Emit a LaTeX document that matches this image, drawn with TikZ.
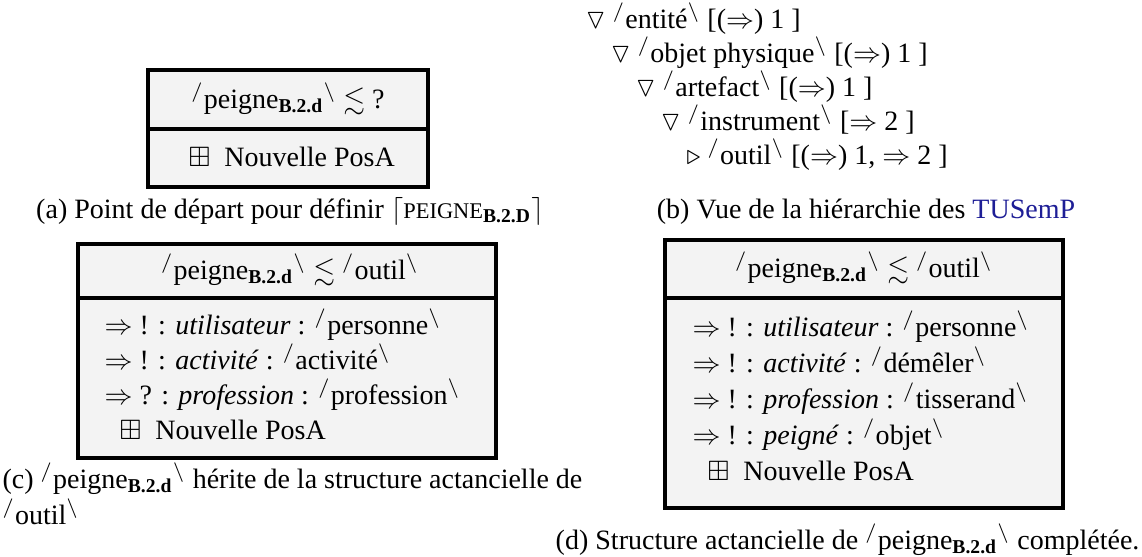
\documentclass[tikz,border=0pt]{standalone}
\usepackage{amssymb}
\usepackage{fontspec}
\setmainfont{Liberation Serif}
\definecolor{boxfill}{HTML}{F3F3F3}
\definecolor{linkblue}{RGB}{30,30,150}
\newcommand{\semlab}[1]{$^{/}$#1$^{\backslash}$}
\newcommand{\peignelab}{\semlab{peigne\textsubscript{\textbf{B.2.d}}}}
\tikzset{
  boxframe/.style={draw=black, line width=1.1pt, fill=boxfill},
  divline/.style={draw=black, line width=1.1pt},
  rowtext/.style={anchor=base west, inner sep=0pt},
  ctext/.style={anchor=base, inner sep=0pt},
  captext/.style={anchor=base west, inner sep=0pt},
}
\begin{document}
\begin{tikzpicture}[x=0.357pt, y=-0.357pt]
\useasboundingbox (0,0) rectangle (1142,556);
% ---------- (a)
\draw[boxframe] (148,70) rectangle (428,187);
\draw[divline] (148,129) -- (428,129);
\node[ctext] (ah) at (288,108) {\peignelab{} $\lesssim$ ?};
\node[rowtext] (ar) at (188,166) {$\boxplus$\ \ Nouvelle PosA};
\node[ctext] (ac) at (290,218) {(a) Point de départ pour définir $\lceil${\footnotesize PEIGNE}\textsubscript{\textbf{\scriptsize B.2.D}}$\rceil$};
% ---------- (b)
\node[rowtext] (b1) at (585,28) {$\triangledown$ \semlab{entité} [($\Rightarrow$) 1 ]};
\node[rowtext] (b2) at (610,62) {$\triangledown$ \semlab{objet physique} [($\Rightarrow$) 1 ]};
\node[rowtext] (b3) at (635,96) {$\triangledown$ \semlab{artefact} [($\Rightarrow$) 1 ]};
\node[rowtext] (b4) at (660,130) {$\triangledown$ \semlab{instrument} [$\Rightarrow$ 2 ]};
\node[rowtext] (b5) at (686,164) {$\triangleright$ \semlab{outil} [($\Rightarrow$) 1, $\Rightarrow$ 2 ]};
\node[ctext] (bc) at (866,218) {(b) Vue de la hiérarchie des \textcolor{linkblue}{TUSemP}};
% ---------- (c)
\draw[boxframe] (78,244) rectangle (496,458);
\draw[divline] (78,298) -- (496,298);
\node[ctext] (ch) at (290,279) {\peignelab{} $\lesssim$ \semlab{outil}};
\node[rowtext] (c1) at (104,334) {$\Rightarrow$ ! : \textit{utilisateur} : \semlab{personne}};
\node[rowtext] (c2) at (104,369) {$\Rightarrow$ ! : \textit{activité} : \semlab{activité}};
\node[rowtext] (c3) at (104,404) {$\Rightarrow$ ? : \textit{profession} : \semlab{profession}};
\node[rowtext] (c4) at (119,439) {$\boxplus$\ \ Nouvelle PosA};
\node[captext] (cc1) at (2,488) {(c) \peignelab{} hérite de la structure actancielle de};
\node[captext] (cc2) at (2,524) {\semlab{outil}};
% ---------- (d)
\draw[boxframe] (665,240) rectangle (1063,508);
\draw[divline] (665,298) -- (1063,298);
\node[ctext] (dh) at (864,277) {\peignelab{} $\lesssim$ \semlab{outil}};
\node[rowtext] (d1) at (692,336) {$\Rightarrow$ ! : \textit{utilisateur} : \semlab{personne}};
\node[rowtext] (d2) at (692,372) {$\Rightarrow$ ! : \textit{activité} : \semlab{démêler}};
\node[rowtext] (d3) at (692,408) {$\Rightarrow$ ! : \textit{profession} : \semlab{tisserand}};
\node[rowtext] (d4) at (692,444) {$\Rightarrow$ ! : \textit{peigné} : \semlab{objet}};
\node[rowtext] (d5) at (707,480) {$\boxplus$\ \ Nouvelle PosA};
\node[anchor=base east, inner sep=0pt] (dc) at (1140,549) {(d) Structure actancielle de \peignelab{} complétée.};
\end{tikzpicture}
\end{document}
